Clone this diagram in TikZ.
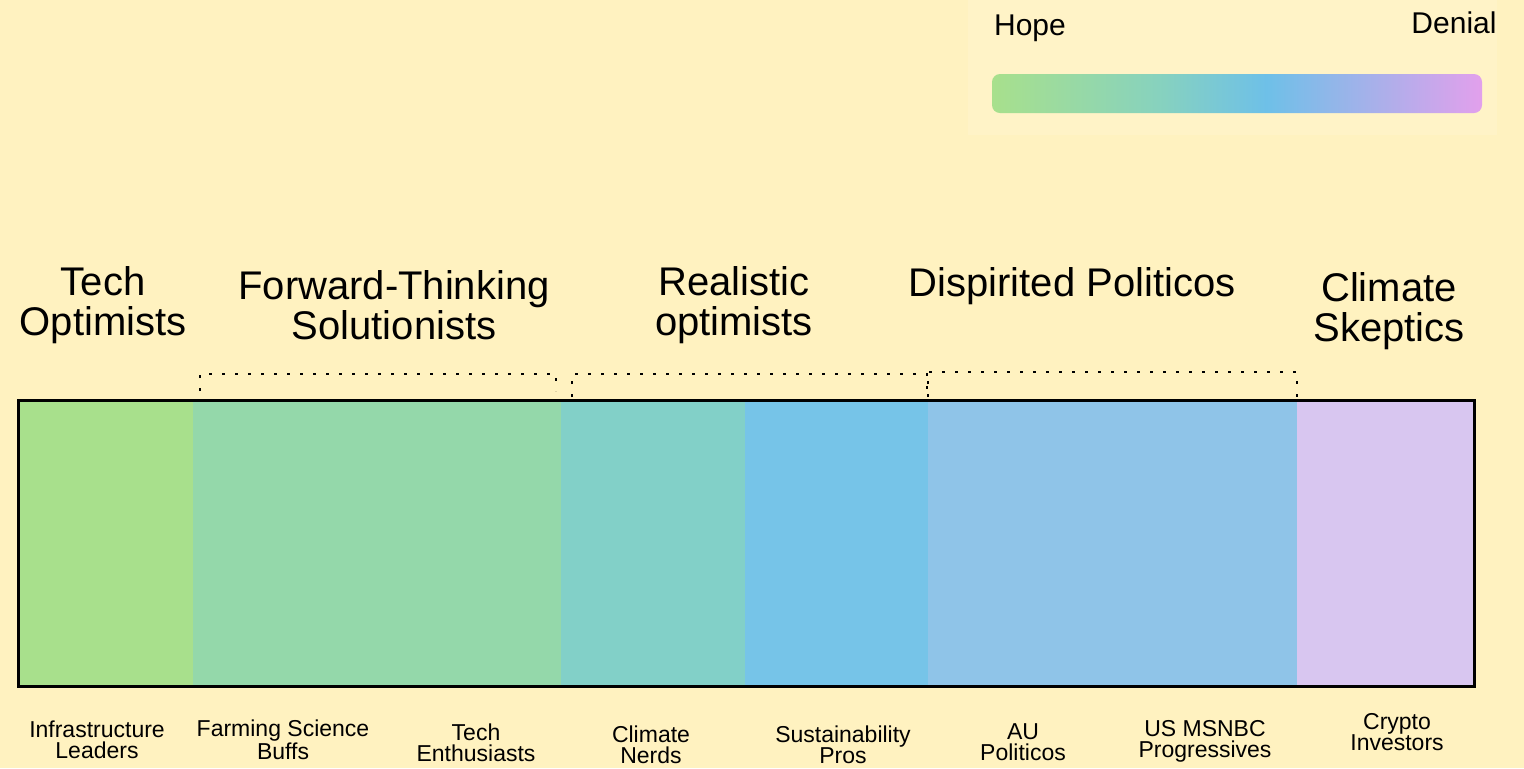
\documentclass[tikz,border=0pt]{standalone}
\usepackage{fontspec}
\setmainfont{Liberation Sans}
\usepackage{tikz}
\usepackage{xcolor}

\definecolor{bgyellow}{RGB}{255,242,192}
\definecolor{legendbg}{RGB}{255,243,199}
\definecolor{segA}{RGB}{168,224,140}
\definecolor{segB}{RGB}{148,216,170}
\definecolor{segC}{RGB}{130,208,200}
\definecolor{segD}{RGB}{118,196,232}
\definecolor{segE}{RGB}{143,196,232}
\definecolor{segF}{RGB}{216,198,240}
\definecolor{hdA}{RGB}{168,224,140}
\definecolor{hdB}{RGB}{135,210,190}
\definecolor{hdC}{RGB}{110,192,232}
\definecolor{hdD}{RGB}{226,160,236}

\pgfdeclarehorizontalshading{hopedenial}{100bp}{color(0bp)=(hdA); color(25bp)=(hdA);
  color(42bp)=(hdB); color(53bp)=(hdC); color(75bp)=(hdD); color(100bp)=(hdD)}

\begin{document}
\begin{tikzpicture}[x=0.5pt,y=-0.5pt,
  grouplabel/.style={align=center,inner sep=0pt,font=\fontsize{20}{20}\selectfont},
  tribelabel/.style={align=center,inner sep=0pt,font=\fontsize{11.5}{10.5}\selectfont},
  scalelabel/.style={inner sep=0pt,font=\fontsize{15}{15}\selectfont},
  bracketline/.style={line width=1.4pt,dash pattern=on 1.4pt off 5.1pt}]
\fill[bgyellow] (0,0) rectangle (1524,768);
\useasboundingbox (0,0) rectangle (1524,768);

% legend
\fill[legendbg] (968,0) rectangle (1497,135);
\shade[shading=hopedenial,rounded corners=4pt] (992,74) rectangle (1482,113);
\node[scalelabel] (hope) at (1030,28) {Hope};
\node[scalelabel] (denial) at (1454,23) {Denial};

% segments of the bar
\fill[segA] (18,400) rectangle (193,686);
\fill[segB] (193,400) rectangle (377,686);
\fill[segB] (377,400) rectangle (561,686);
\fill[segC] (561,400) rectangle (745,686);
\fill[segD] (745,400) rectangle (928,686);
\fill[segE] (928,400) rectangle (1113,686);
\fill[segE] (1113,400) rectangle (1297,686);
\fill[segF] (1297,400) rectangle (1474,686);
\draw[line width=1.5pt] (18,400) rectangle (1474,686);

% group brackets
\draw[bracketline] (200,391) -- (200,374) -- (556,374) -- (556,391);
\draw[bracketline] (572,397) -- (572,374) -- (927,374) -- (927,397);
\draw[bracketline] (928,397) -- (928,372) -- (1297,372) -- (1297,397);

% group names
\node[grouplabel] (techopt) at (103,305) {Tech\\Optimists};
\node[grouplabel] (forward) at (394,305) {Forward-Thinking\\Solutionists};
\node[grouplabel] (realistic) at (734,305) {Realistic\\optimists};
\node[grouplabel] (dispirited) at (1072,286) {Dispirited Politicos};
\node[grouplabel] (skeptics) at (1389,311) {Climate\\Skeptics};

% tribe names
\node[tribelabel] (infra) at (97,740) {Infrastructure\\Leaders};
\node[tribelabel] (farming) at (283,740) {Farming Science\\Buffs};
\node[tribelabel] (techent) at (476,743) {Tech\\Enthusiasts};
\node[tribelabel] (nerds) at (651,745) {Climate\\Nerds};
\node[tribelabel] (sustain) at (843,745) {Sustainability\\Pros};
\node[tribelabel] (aupol) at (1023,742) {AU\\Politicos};
\node[tribelabel] (msnbc) at (1205,741) {US MSNBC\\Progressives};
\node[tribelabel] (crypto) at (1397,732) {Crypto\\Investors};
\end{tikzpicture}
\end{document}
